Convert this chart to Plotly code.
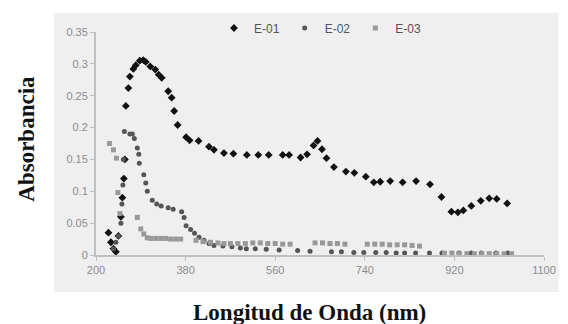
import plotly.graph_objects as go

# ---- data ----
e01_wl = [225, 230, 235, 240, 245, 250, 253, 256, 258, 260, 265, 268, 275, 280, 288, 295,
          300, 309, 319, 326, 332, 345, 352, 357, 364, 381, 388, 406, 427, 437, 457, 476,
          503, 526, 547, 575, 588, 611, 624, 637, 645, 654, 663, 678, 702, 719, 742, 758,
          771, 791, 816, 843, 871, 894, 914, 927, 938, 954, 973, 990, 1005, 1026]
e01_abs = [0.035, 0.02, 0.01, 0.005, 0.03, 0.06, 0.09, 0.12, 0.15, 0.234, 0.262, 0.280,
           0.292, 0.298, 0.305, 0.306, 0.303, 0.296, 0.291, 0.283, 0.278, 0.257, 0.247,
           0.226, 0.204, 0.185, 0.180, 0.179, 0.170, 0.165, 0.160, 0.159, 0.157, 0.157,
           0.157, 0.157, 0.157, 0.153, 0.158, 0.172, 0.179, 0.166, 0.152, 0.138, 0.131,
           0.129, 0.123, 0.114, 0.115, 0.116, 0.114, 0.116, 0.111, 0.091, 0.068, 0.067,
           0.070, 0.077, 0.085, 0.089, 0.088, 0.081]

e02_wl = [235, 240, 245, 250, 252, 254, 255, 257, 268, 273, 277, 283, 286, 287, 296, 300,
          303, 313, 322, 331, 345, 355, 372, 377, 381, 390, 398, 407, 417, 427, 437, 455,
          473, 490, 502, 520, 542, 568, 605, 630, 673, 693, 718, 738, 762, 783, 803, 820,
          842, 870, 895, 929, 954, 974, 1003, 1027]
e02_abs = [0.01, 0.02, 0.03, 0.05, 0.08, 0.11, 0.15, 0.194, 0.190, 0.190, 0.183, 0.168,
           0.158, 0.144, 0.126, 0.113, 0.100, 0.086, 0.080, 0.077, 0.074, 0.072, 0.068,
           0.059, 0.046, 0.040, 0.034, 0.028, 0.023, 0.018, 0.015, 0.014, 0.013, 0.011,
           0.010, 0.010, 0.009, 0.008, 0.007, 0.006, 0.005, 0.005, 0.004, 0.004, 0.004,
           0.004, 0.003, 0.003, 0.003, 0.003, 0.003, 0.003, 0.003, 0.003, 0.003, 0.003]

e03_wl = [227, 235, 241, 244, 248, 283, 290, 296, 303, 310, 320, 330, 340, 350, 360, 370,
          401, 415, 430, 445, 457, 470, 485, 500, 515, 530, 545, 560, 575, 590, 640, 655,
          670, 685, 700, 745, 760, 775, 790, 805, 820, 835, 850, 900, 915, 930, 945, 960,
          975, 990, 1005, 1020, 1035]
e03_abs = [0.175, 0.165, 0.152, 0.098, 0.065, 0.059, 0.041, 0.033, 0.027, 0.026, 0.026,
           0.026, 0.026, 0.025, 0.025, 0.025, 0.023, 0.021, 0.020, 0.019, 0.018, 0.018,
           0.018, 0.018, 0.019, 0.019, 0.018, 0.018, 0.017, 0.017, 0.019, 0.019, 0.018,
           0.018, 0.017, 0.017, 0.017, 0.017, 0.016, 0.016, 0.016, 0.015, 0.014, 0.003,
           0.003, 0.002, 0.002, 0.002, 0.002, 0.002, 0.002, 0.002, 0.002]

x_ticks = [200, 380, 560, 740, 920, 1100]
x_tick_labels = ["200", "380", "560", "740", "920", "1100"]
y_ticks = [0, 0.05, 0.1, 0.15, 0.2, 0.25, 0.3, 0.35]
y_tick_labels = ["0", "0.05", "0.1", "0.15", "0.2", "0.25", "0.3", "0.35"]

fig = go.Figure()
fig.add_trace(go.Scatter(x=e01_wl, y=e01_abs, mode="markers", name="E-01",
                         marker=dict(symbol="diamond", size=6, color="#111111")))
fig.add_trace(go.Scatter(x=e02_wl, y=e02_abs, mode="markers", name="E-02",
                         marker=dict(symbol="circle", size=5, color="#555555")))
fig.add_trace(go.Scatter(x=e03_wl, y=e03_abs, mode="markers", name="E-03",
                         marker=dict(symbol="square", size=5, color="#999999")))

W, H = 568, 324
L, R, T, B = 96, 13, 32, 69
pw, ph = W - L - R, H - T - B

def px(xp):
    return (xp - L) / pw

def py(yp):
    return (H - B - yp) / ph

axis_common = dict(showline=True, linecolor="#c0c0c0", linewidth=2, ticks="outside",
                   ticklen=4, tickcolor="#c0c0c0", showgrid=False, zeroline=False,
                   tickfont=dict(family="Liberation Sans", size=11, color="#8c8c8c"))

fig.update_layout(
    width=W, height=H,
    margin=dict(l=L, r=R, t=T, b=B),
    paper_bgcolor="white",
    plot_bgcolor="#efefef",
    showlegend=True,
    legend=dict(orientation="h", x=px(326), xanchor="center", y=py(28), yanchor="middle",
                font=dict(family="Liberation Sans", size=12, color="#555555"),
                bgcolor="rgba(0,0,0,0)", itemwidth=30, tracegroupgap=0),
    xaxis=dict(range=[200, 1100], tickvals=x_ticks, ticktext=x_tick_labels, **axis_common),
    yaxis=dict(range=[0, 0.35], tickvals=y_ticks, ticktext=y_tick_labels, **axis_common),
    shapes=[dict(type="rect", xref="paper", yref="paper", x0=px(53), x1=px(570),
                 y0=py(292), y1=py(13), fillcolor="#efefef", line=dict(width=0),
                 layer="below")],
    annotations=[
        dict(text="<b>Longitud de Onda (nm)</b>", xref="paper", yref="paper",
             x=px(315), y=py(313), xanchor="center", yanchor="middle", showarrow=False,
             font=dict(family="Liberation Serif", size=23, color="#111111")),
        dict(text="<b>Absorbancia</b>", xref="paper", yref="paper", textangle=-90,
             x=px(24), y=py(139), xanchor="center", yanchor="middle", showarrow=False,
             font=dict(family="Liberation Serif", size=23, color="#111111")),
    ],
)

fig.write_html("out.html",
               config={"displayModeBar": False},
               post_script="document.body.style.margin='0';document.body.style.overflow='hidden';")
